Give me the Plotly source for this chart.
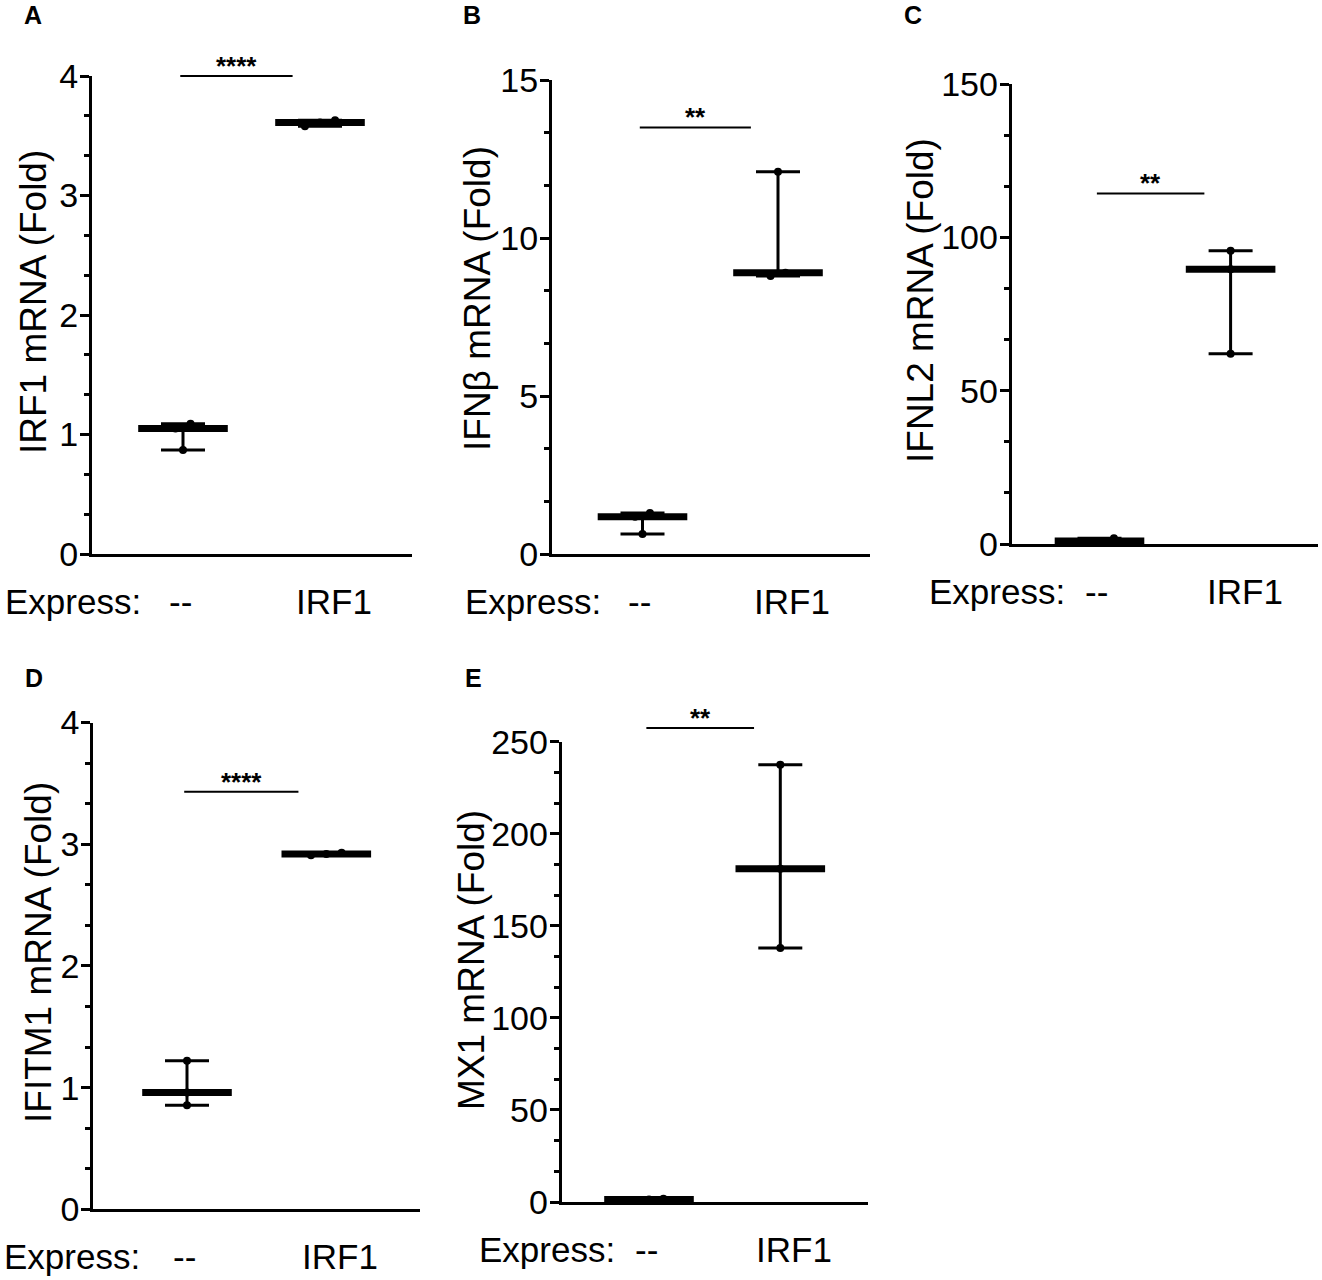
import numpy as np
import plotly.graph_objects as go

# Data (fold change, three replicates per group).
groups = ['--', 'IRF1']
panel_letters = ['A', 'B', 'C', 'D', 'E']
y_titles = ['IRF1 mRNA (Fold)', 'IFNβ mRNA (Fold)', 'IFNL2 mRNA (Fold)', 'IFITM1 mRNA (Fold)', 'MX1 mRNA (Fold)']
control_values = [
    [1.09, 1.05, 0.87],
    [1.30, 1.18, 0.63],
    [1.9, 1.0, 0.3],
    [1.22, 0.96, 0.855],
    [1.7, 1.3, 0.6],
]
irf1_values = [
    [3.63, 3.61, 3.58],
    [12.1, 8.9, 8.8],
    [95.6, 89.6, 62.0],
    [2.93, 2.92, 2.91],
    [237.5, 181.0, 138.0],
]
significance = ['****', '**', '**', '****', '**']
significance_heights = [4.0, 13.5, 114.3, 3.43, 257.5]
y_max = [4, 15, 150, 4, 250]
y_dtick = [1, 5, 50, 1, 50]

# Figure geometry in pixels.
width, height = 1322, 1280
# (axis left, axis right, top, bottom, first category centre, second category centre)
panel_boxes = [
    (92, 412, 76, 554, 183, 320),
    (552, 870, 80, 554, 642.5, 778),
    (1011.7, 1318, 84, 544, 1099.5, 1230.6),
    (93.3, 420, 722.5, 1209.3, 187, 326.3),
    (561.7, 868, 741.7, 1202, 649, 780.3),
]
letter_positions = [(33, 15), (472, 15), (913, 15), (34, 678), (473, 678)]
title_positions = [(33, 302), (477, 298), (921, 301), (38, 953), (471, 960)]
express_x = [3, 463, 927, 2, 477]
label_shift = [-3, 14]


def spread(values, threshold, step=0.11):
    # Spread overlapping points sideways, like a column scatter.
    values = np.asarray(values, dtype=float)
    order = np.argsort(values)
    clusters = [[order[0]]]
    for a, b in zip(order[:-1], order[1:]):
        if values[b] - values[a] < threshold:
            clusters[-1].append(b)
        else:
            clusters.append([b])
    offsets = np.zeros(len(values))
    for cluster in clusters:
        for k, idx in enumerate(cluster):
            offsets[idx] = (k - (len(cluster) - 1) / 2) * step
    return offsets


fig = go.Figure()
layout = dict(
    width=width, height=height,
    margin=dict(l=0, r=0, t=0, b=0, autoexpand=False),
    paper_bgcolor='white', plot_bgcolor='white',
    showlegend=False,
    font=dict(family='Liberation Sans, Arial, sans-serif', color='black'),
)
annotations = []
shapes = []

for i in range(5):
    xid = 'x' if i == 0 else f'x{i + 1}'
    yid = 'y' if i == 0 else f'y{i + 1}'
    left, right, top, bottom, c0, c1 = panel_boxes[i]
    spacing = c1 - c0

    layout['xaxis' if i == 0 else f'xaxis{i + 1}'] = dict(
        domain=[left / width, right / width],
        range=[(left - c0) / spacing, (right - c0) / spacing],
        anchor=yid, showline=True, linewidth=3, linecolor='black', automargin=False,
        showticklabels=False, ticks='', showgrid=False, zeroline=False, fixedrange=True,
    )
    layout['yaxis' if i == 0 else f'yaxis{i + 1}'] = dict(
        domain=[1 - bottom / height, 1 - top / height],
        range=[0, y_max[i]], anchor=xid, automargin=False,
        showline=True, linewidth=3, linecolor='black',
        ticks='outside', ticklen=9, tickwidth=3, tickcolor='black',
        tick0=0, dtick=y_dtick[i], tickfont=dict(size=34), ticklabelstandoff=-5,
        showgrid=False, zeroline=False, fixedrange=True,
        minor=dict(tick0=0, dtick=y_dtick[i] / 3, ticks='outside', ticklen=5, tickwidth=3,
                   tickcolor='black', showgrid=False),
    )

    for g, values in enumerate([control_values[i], irf1_values[i]]):
        values = np.asarray(values, dtype=float)
        median = np.median(values)
        # Median line with min-max range.
        fig.add_trace(go.Scatter(
            x=[g], y=[median], xaxis=xid, yaxis=yid,
            mode='markers', cliponaxis=False, hoverinfo='y',
            marker=dict(symbol='line-ew', size=64, line=dict(width=7, color='black'), color='black'),
            error_y=dict(type='data', symmetric=False,
                         array=[values.max() - median], arrayminus=[median - values.min()],
                         thickness=3, width=22, color='black'),
        ))
        # Individual replicates.
        fig.add_trace(go.Scatter(
            x=g + spread(values, 0.02 * y_max[i]), y=values, xaxis=xid, yaxis=yid,
            mode='markers', cliponaxis=False, hoverinfo='y',
            marker=dict(symbol='circle', size=8, color='black'),
        ))
        # Category labels.
        annotations.append(dict(
            text=groups[g], xref=xid, x=g, yref=f'{yid} domain', y=0,
            xanchor='center', yanchor='middle', yshift=-47, xshift=label_shift[g],
            showarrow=False, font=dict(size=35),
        ))

    annotations.append(dict(
        text='Express:', xref='paper', x=express_x[i] / width, yref=f'{yid} domain', y=0,
        xanchor='left', yanchor='middle', yshift=-47, showarrow=False, font=dict(size=35),
    ))

    # Significance bar.
    shapes.append(dict(
        type='line', xref=xid, yref=f'{yid} domain', x0=-0.02, x1=0.8,
        y0=significance_heights[i] / y_max[i], y1=significance_heights[i] / y_max[i],
        line=dict(color='black', width=2),
    ))
    annotations.append(dict(
        text=f'<b>{significance[i]}</b>', xref=xid, x=0.39,
        yref=f'{yid} domain', y=significance_heights[i] / y_max[i],
        xanchor='center', yanchor='middle', yshift=10, showarrow=False, font=dict(size=26),
    ))

    # Axis title and panel letter.
    tx, ty = title_positions[i]
    annotations.append(dict(
        text=y_titles[i], xref='paper', yref='paper', x=tx / width, y=1 - ty / height,
        xanchor='center', yanchor='middle', textangle=-90, showarrow=False, font=dict(size=37),
    ))
    lx, ly = letter_positions[i]
    annotations.append(dict(
        text=f'<b>{panel_letters[i]}</b>', xref='paper', yref='paper', x=lx / width, y=1 - ly / height,
        xanchor='center', yanchor='middle', showarrow=False, font=dict(size=25),
    ))

layout['annotations'] = annotations
layout['shapes'] = shapes
fig.update_layout(**layout)

fig.write_html('out.html', config={'displayModeBar': False},
               post_script="document.body.style.margin='0';")
